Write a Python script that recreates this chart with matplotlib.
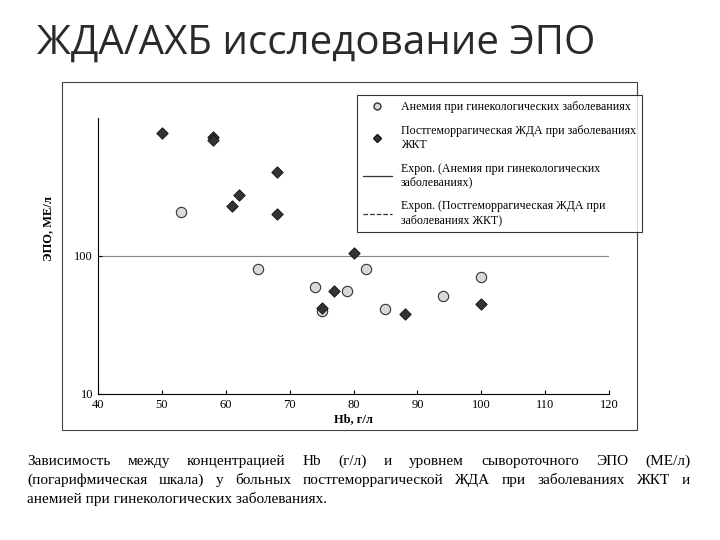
import matplotlib
matplotlib.use("Agg")
import matplotlib.pyplot as plt
from matplotlib.lines import Line2D
from matplotlib.patches import Rectangle

hb_gyn = [53, 65, 74, 79, 75, 82, 85, 94, 100]
epo_gyn = [209, 80, 60, 56, 40, 81, 41, 51, 70]
hb_gi = [50, 58, 58, 68, 62, 61, 68, 80, 77, 75, 100, 88]
epo_gi = [778, 732, 693, 406, 278, 232, 201, 106, 56, 42, 45, 38]
xticks = [40, 50, 60, 70, 80, 90, 100, 110, 120]
yticks = [10, 100]

fig = plt.figure(figsize=(7.2, 5.4), dpi=100)
fig.patch.set_facecolor("white")
fig.text(0.052, 0.9, "ЖДА/АХБ исследование ЭПО", fontsize=29, family="Open Sans",
         color="#2a2a2a", va="baseline")
fig.patches.append(Rectangle((62/720, 1-430/540), 575/720, 348/540, transform=fig.transFigure,
                             fill=False, ec="#444", lw=0.8))

ax = fig.add_axes([98/720, 1-394/540, 511/720, 276/540])
ax.set_yscale("log")
ax.set_xlim(40, 120)
ax.set_ylim(10, 1000)
ax.axhline(100, color="#888", lw=0.8, zorder=0)
ax.scatter(hb_gyn, epo_gyn, marker="o", s=55, facecolor="#d9d9d9", edgecolor="#333", lw=0.8, zorder=3)
ax.scatter(hb_gi, epo_gi, marker="D", s=34, facecolor="#333", edgecolor="#111", lw=0.6, zorder=4)
for s in ["top", "right"]:
    ax.spines[s].set_visible(False)
ax.set_xticks(xticks)
ax.set_xticklabels([str(t) for t in xticks], family="Liberation Serif", fontsize=9)
ax.set_yticks(yticks)
ax.set_yticklabels([str(t) for t in yticks], family="Liberation Serif", fontsize=9)
ax.yaxis.set_minor_locator(matplotlib.ticker.NullLocator())
ax.tick_params(direction="in", length=3)
ax.set_xlabel("Hb, г/л", family="Liberation Serif", fontsize=9, fontweight="bold", labelpad=2)
ax.set_ylabel("ЭПО, МЕ/л", family="Liberation Serif", fontsize=9, fontweight="bold")
ax.yaxis.set_label_coords(-0.085, 0.6)

handles = [
    Line2D([], [], ls="none", marker="o", markersize=5, mfc="#d9d9d9", mec="#333"),
    Line2D([], [], ls="none", marker="D", markersize=4, mfc="#333", mec="#111"),
    Line2D([], [], color="#333", lw=0.9),
    Line2D([], [], color="#333", lw=0.9, ls="--"),
]
labels = ["Анемия при гинекологических заболеваниях",
          "Постгеморрагическая ЖДА при заболеваниях\nЖКТ",
          "Expon. (Анемия при гинекологических\nзаболеваниях)",
          "Expon. (Постгеморрагическая ЖДА при\nзаболеваниях ЖКТ)"]
leg = fig.legend(handles, labels, loc="upper left", bbox_to_anchor=(351/720, 1-89/540),
                 prop={"family": "Liberation Serif", "size": 8.6}, frameon=True, fancybox=False,
                 edgecolor="black", handlelength=2.4, labelspacing=1.0, borderpad=0.5)
leg.get_frame().set_linewidth(0.8)

caption = [
    "Зависимость между концентрацией Hb (г/л) и уровнем сывороточного ЭПО (МЕ/л)",
    "(погарифмическая шкала) у больных постгеморрагической ЖДА при заболеваниях ЖКТ и",
    "анемией при гинекологических заболеваниях.",
]
ys = [465, 484, 503]
x0, x1 = 27/720, 690/720
fig.canvas.draw()
r = fig.canvas.get_renderer()
for i, (line, y) in enumerate(zip(caption, ys)):
    if i == len(caption) - 1:
        fig.text(x0, 1-y/540, line, fontsize=11, family="Liberation Serif", va="baseline")
        continue
    words = line.split()
    ts = [fig.text(0, 1-y/540, w, fontsize=11, family="Liberation Serif", va="baseline") for w in words]
    widths = [t.get_window_extent(r).width/720 for t in ts]
    gap = (x1 - x0 - sum(widths)) / (len(words) - 1)
    x = x0
    for t, w in zip(ts, widths):
        t.set_x(x)
        x += w + gap

fig.savefig("out.png", dpi=100)
